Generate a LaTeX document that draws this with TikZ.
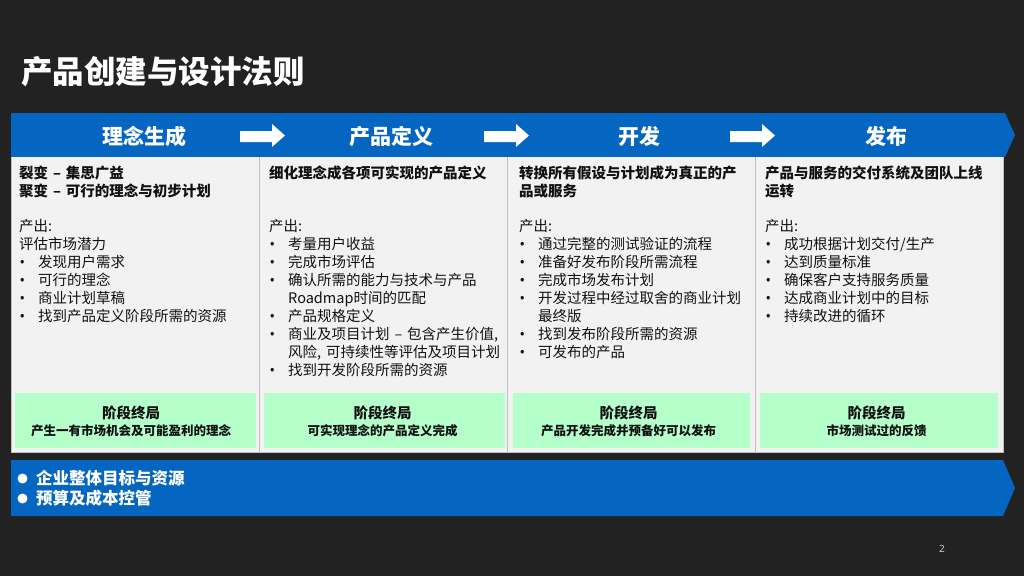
\documentclass[tikz,border=0pt]{standalone}
\usepackage{fontspec}
\setmainfont{Noto Sans CJK SC}
\newfontfamily\latinf{Noto Sans}
\definecolor{bg}{HTML}{222222}
\definecolor{band}{HTML}{0566C1}
\definecolor{colfill}{HTML}{F2F2F2}
\definecolor{colline}{HTML}{BFBFBF}
\definecolor{greenbox}{HTML}{B5FFCB}
\definecolor{txt}{HTML}{111111}
\newcommand\bitem{\makebox[19pt][l]{\hspace{0.5pt}{\latinf •}}}
\newcommand\bcont{\hspace*{19pt}}
\tikzset{
  headtxt/.style={anchor=base, text=white, font=\fontsize{21}{24}\selectfont\bfseries, inner sep=0pt},
  coltitle/.style={anchor=base west, text=txt, font=\fontsize{14.5}{18}\selectfont\bfseries, inner sep=0pt, text width=240pt, align=left},
  colbody/.style={anchor=base west, text=txt, font=\fontsize{14.5}{18}\selectfont, inner sep=0pt, text width=240pt, align=left},
  gbox/.style={fill=greenbox, draw=none},
  gtitle/.style={anchor=base, text=txt, font=\fontsize{14.5}{17}\selectfont\bfseries, inner sep=0pt},
  gsub/.style={anchor=base, text=txt, font=\fontsize{12.5}{15}\selectfont\bfseries, inner sep=0pt},
  warrow/.style={fill=white, draw=none},
  bandtxt/.style={anchor=base west, text=white, font=\fontsize{16.5}{20}\selectfont\bfseries, inner sep=0pt},
}
\begin{document}
\begin{tikzpicture}[x=1pt,y=-1pt]
\path[use as bounding box, fill=bg] (0,0) rectangle (1024,576);
% title
\node[anchor=base west, text=white, font=\fontsize{31.5}{34}\selectfont\bfseries, inner sep=0pt] (title) at (21,83.5) {产品创建与设计法则};
% header band
\fill[band] (11,113) -- (1005,113) -- (1015,135) -- (1005,157) -- (11,157) -- cycle;
\node[headtxt] (h1) at (144.5,144) {理念生成};
\node[headtxt] (h2) at (391.5,144) {产品定义};
\node[headtxt] (h3) at (639,144) {开发};
\node[headtxt] (h4) at (886,144) {发布};
% white arrows
\foreach \ax in {240,484,730}{
  \fill[warrow] (\ax,131) -- (\ax+32,131) -- (\ax+32,124) -- (\ax+45,135.5) -- (\ax+32,147) -- (\ax+32,142) -- (\ax,142) -- cycle;
}
% columns
\fill[colfill] (11,157) rectangle (1003,452);
\draw[colline, line width=1pt] (11,157) -- (11,452) -- (1003,452) -- (1003,157);
\foreach \cx in {259,507,755}{
  \draw[colline, line width=1pt] (\cx,157) -- (\cx,452);
}
% column 1
\node[coltitle] (t1) at (19,178.5) {裂变 – 集思广益\\聚变 – 可行的理念与初步计划};
\node[colbody] (b1) at (19,231.5) {产出:\\评估市场潜力\\\bitem 发现用户需求\\\bitem 可行的理念\\\bitem 商业计划草稿\\\bitem 找到产品定义阶段所需的资源};
% column 2
\node[coltitle] (t2) at (269,178.5) {细化理念成各项可实现的产品定义};
\node[colbody] (b2) at (269,231.5) {产出:\\\bitem 考量用户收益\\\bitem 完成市场评估\\\bitem 确认所需的能力与技术与产品\\\bcont Roadmap时间的匹配\\\bitem 产品规格定义\\\bitem 商业及项目计划 – 包含产生价值,\\\bcont 风险, 可持续性等评估及项目计划\\\bitem 找到开发阶段所需的资源};
% column 3
\node[coltitle] (t3) at (519,178.5) {转换所有假设与计划成为真正的产\\品或服务};
\node[colbody] (b3) at (519,231) {产出:\\\bitem 通过完整的测试验证的流程\\\bitem 准备好发布阶段所需流程\\\bitem 完成市场发布计划\\\bitem 开发过程中经过取舍的商业计划\\\bcont 最终版\\\bitem 找到发布阶段所需的资源\\\bitem 可发布的产品};
% column 4
\node[coltitle] (t4) at (765,178.5) {产品与服务的交付系统及团队上线\\运转};
\node[colbody] (b4) at (765,231) {产出:\\\bitem 成功根据计划交付/生产\\\bitem 达到质量标准\\\bitem 确保客户支持服务质量\\\bitem 达成商业计划中的目标\\\bitem 持续改进的循环};
% green boxes
\fill[gbox] (15,393) rectangle (256,448);
\fill[gbox] (264,393) rectangle (505,448);
\fill[gbox] (513,393) rectangle (750,448);
\fill[gbox] (760,393) rectangle (998,448);
\node[gtitle] (g1t) at (131,418.5) {阶段终局};
\node[gsub] (g1s) at (131,435.5) {产生一有市场机会及可能盈利的理念};
\node[gtitle] (g2t) at (382.5,418.5) {阶段终局};
\node[gsub] (g2s) at (382.5,435.5) {可实现理念的产品定义完成};
\node[gtitle] (g3t) at (628.5,418.5) {阶段终局};
\node[gsub] (g3s) at (628.5,435.5) {产品开发完成并预备好可以发布};
\node[gtitle] (g4t) at (876.5,418.5) {阶段终局};
\node[gsub] (g4s) at (876.5,435.5) {市场测试过的反馈};
% bottom band
\fill[band] (11,460) -- (1003,460) -- (1015,488) -- (1003,516) -- (11,516) -- cycle;
\fill[white] (22.5,478.5) circle (5);
\fill[white] (22.5,498.5) circle (5);
\node[bandtxt] (p1) at (36,484.5) {企业整体目标与资源};
\node[bandtxt] (p2) at (36,504.5) {预算及成本控管};
% page number
\node[anchor=base, text=black!20, font=\latinf\fontsize{10}{12}\selectfont, inner sep=0pt] (pg) at (942,552) {2};
\end{tikzpicture}
\end{document}
